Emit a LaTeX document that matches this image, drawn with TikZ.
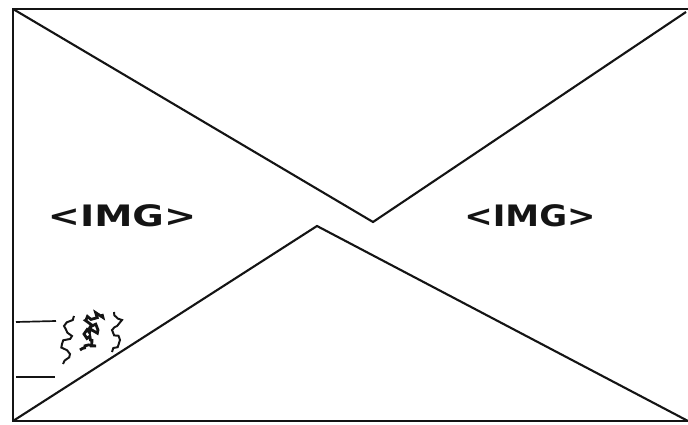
\documentclass[tikz,border=0pt]{standalone}
\usepackage{fontspec}
\setsansfont{DejaVu Sans}
\usetikzlibrary{arrows.meta,positioning,calc,decorations.pathmorphing}
\definecolor{skInk}{RGB}{20,20,20}
\colorlet{ink}{skInk}

\begin{document}
\begin{tikzpicture}[x=0.025cm,y=-0.025cm,line width=1.5pt,draw=ink]
\useasboundingbox (0,0) rectangle (688,425);
\coordinate (tl) at (13,9);
\coordinate (tr) at (688,9);
\coordinate (bl) at (13,421);
\coordinate (br) at (688,421);
\coordinate (mid1) at (373,222);
\coordinate (mid2) at (317,226);
\draw (tr) -- (tl) -- (bl) -- (br);
\draw (tl) -- (mid1) -- (686,12);
\draw (bl) -- (mid2) -- (br);
\node[font=\sffamily\bfseries\fontsize{21}{24}\selectfont,text=ink,xscale=1.3] (imgL) at (122,216) {<IMG>};
\node[font=\sffamily\bfseries\fontsize{21}{24}\selectfont,text=ink,xscale=1.15] (imgR) at (530,216) {<IMG>};
% caption scribble
\coordinate (c1) at (16,322);
\coordinate (c2) at (16,377);
\draw[line width=1.2pt] (c1) -- ++(40,-1);
\draw[line width=1.2pt] (c2) -- ++(39,0);
\pgfmathsetseed{7}
\draw[line width=1.4pt,decorate,decoration={random steps,segment length=3pt,amplitude=2pt}]
  (63,364) -- (70,354) -- (62,344) -- (72,336) -- (64,326) -- (74,316);
\draw[line width=2pt,decorate,decoration={random steps,segment length=2pt,amplitude=2.5pt}]
  (80,350) -- (96,346) -- (84,334) -- (98,330) -- (86,320) -- (102,314);
\draw[line width=1.4pt,decorate,decoration={random steps,segment length=3pt,amplitude=1.5pt}]
  (112,352) -- (120,340) -- (112,330) -- (122,320) -- (114,312);
\end{tikzpicture}
\end{document}
